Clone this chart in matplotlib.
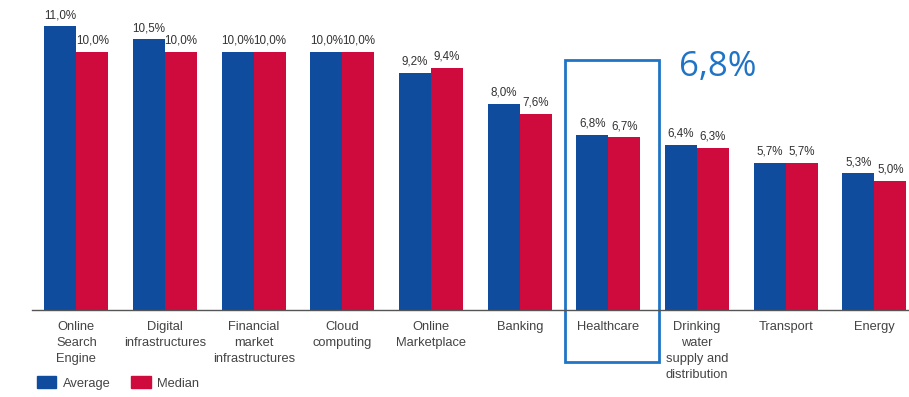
import matplotlib.pyplot as plt
from matplotlib.patches import Rectangle, Patch

plt.rcParams['font.family'] = ['Liberation Sans', 'DejaVu Sans']

sectors = ['Online\nSearch\nEngine', 'Digital\ninfrastructures', 'Financial\nmarket\ninfrastructures',
           'Cloud\ncomputing', 'Online\nMarketplace', 'Banking', 'Healthcare',
           'Drinking\nwater\nsupply and\ndistribution', 'Transport', 'Energy']
average = [11.0, 10.5, 10.0, 10.0, 9.2, 8.0, 6.8, 6.4, 5.7, 5.3]
median = [10.0, 10.0, 10.0, 10.0, 9.4, 7.6, 6.7, 6.3, 5.7, 5.0]
highlight = 6  # Healthcare

BLUE = '#0f4c9e'
RED = '#cf0a3c'
TXT = '#444444'

fig = plt.figure(figsize=(9.09, 3.97), dpi=100)
ax = fig.add_axes([32/909, 87/397, 1 - 32/909, 310/397])

x = list(range(len(sectors)))
w = 0.36
ax.bar([i - w/2 for i in x], average, w, color=BLUE, label='Average')
ax.bar([i + w/2 for i in x], median, w, color=RED, label='Median')

def fmt(v):
    return f'{v:.1f}%'.replace('.', ',')

for i in x:
    ax.text(i - w/2, average[i] + 0.2, fmt(average[i]), ha='center', va='bottom',
            fontsize=8.4, color='#333333')
    ax.text(i + w/2, median[i] + 0.2, fmt(median[i]), ha='center', va='bottom',
            fontsize=8.4, color='#333333')

ax.set_xlim(-0.5, 9.39)
ax.set_ylim(0, 12.02)
ax.set_xticks(x)
ax.set_xticklabels(sectors, fontsize=9.3, color=TXT, linespacing=1.45)
ax.tick_params(axis='x', length=0, pad=8)
ax.set_yticks([])
for s in ['top', 'right', 'left']:
    ax.spines[s].set_visible(False)
ax.spines['bottom'].set_color('#555555')
ax.spines['bottom'].set_linewidth(1.0)

# highlight box around Healthcare
ax.add_patch(Rectangle((highlight - 0.485, -2.02), 1.06, 11.71, fill=False,
                       edgecolor='#1f74c6', linewidth=2, clip_on=False))
ax.text(7.23, 9.42, fmt(average[highlight]), ha='center', va='center',
        fontsize=25, color='#1f74c6', family=['Open Sans', 'DejaVu Sans'])

handles = [Patch(color=BLUE, label='Average'), Patch(color=RED, label='Median')]
fig.legend(handles=handles, loc='center left', bbox_to_anchor=(37/909, 14/397),
           frameon=False, borderpad=0, borderaxespad=0, ncol=2, fontsize=9.3,
           handlelength=1.5, handleheight=1.0, handletextpad=0.5, columnspacing=1.6,
           labelcolor=TXT)

fig.savefig('out.png', dpi=100)
